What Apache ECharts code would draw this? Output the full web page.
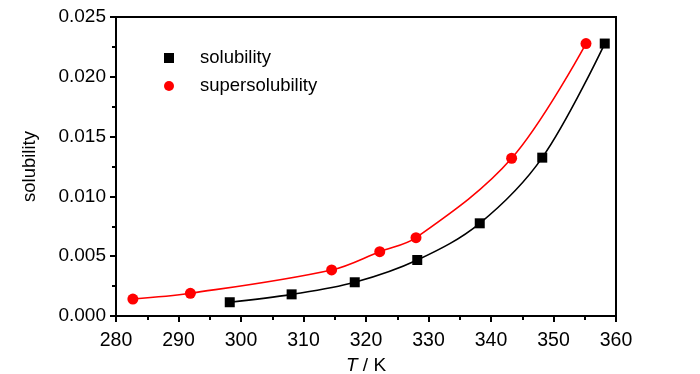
<!DOCTYPE html>
<html>
<head>
<meta charset="utf-8">
<script src="https://cdn.jsdelivr.net/npm/echarts@6/dist/echarts.min.js"></script>
<style>html,body{margin:0;padding:0;background:#fff}#c{width:700px;height:374px}</style>
</head>
<body>
<div id="c"></div>
<script>
const solT = [298.2, 308.1, 318.2, 328.2, 338.2, 348.2, 358.2];
const solVal = [0.00115, 0.00181, 0.00282, 0.00468, 0.00775, 0.01324, 0.02278];
const supT = [282.7, 291.9, 314.5, 322.2, 328.0, 343.3, 355.2];
const supVal = [0.00142, 0.0019, 0.00385, 0.00538, 0.00655, 0.01319, 0.02278];
const xTicks = [280, 290, 300, 310, 320, 330, 340, 350, 360];
const yTicks = [0.000, 0.005, 0.010, 0.015, 0.020, 0.025];

const FONT = "'Liberation Sans', Arial, sans-serif";
const chart = echarts.init(document.getElementById('c'), null, {renderer: 'canvas'});
const pair = (xs, ys) => xs.map((x, i) => [x, ys[i]]);

chart.setOption({
  animation: false,
  backgroundColor: '#fff',
  grid: {left: 116, top: 17, width: 500, height: 299, containLabel: false, outerBoundsMode: 'none',
         show: true, borderColor: '#000', borderWidth: 2, backgroundColor: 'transparent'},
  legend: {
    orient: 'vertical', left: 159, top: 42, itemWidth: 10, itemHeight: 10, itemGap: 6,
    textStyle: {fontFamily: FONT, fontSize: 18.5, color: '#000', lineHeight: 22, padding: [0, 0, 0, 21]},
    data: [{name: 'solubility', icon: 'rect'}, {name: 'supersolubility', icon: 'circle'}]
  },
  xAxis: {
    type: 'value', min: xTicks[0], max: xTicks[xTicks.length - 1], interval: 10,
    name: '{i|T} / K', nameLocation: 'middle', nameGap: 39,
    nameTextStyle: {fontFamily: FONT, fontSize: 19, color: '#000', rich: {i: {fontFamily: FONT, fontSize: 19, fontStyle: 'italic', color: '#000'}}},
    axisLine: {show: true, onZero: false, lineStyle: {color: '#000', width: 2}},
    axisTick: {show: true, inside: false, length: 6, lineStyle: {color: '#000', width: 2}},
    minorTick: {show: true, splitNumber: 2, length: 4, lineStyle: {color: '#000', width: 2}},
    splitLine: {show: false},
    axisLabel: {fontFamily: FONT, fontSize: 19.5, color: '#000', margin: 15}
  },
  yAxis: {
    type: 'value', min: yTicks[0], max: yTicks[yTicks.length - 1], interval: 0.005,
    name: 'solubility', nameLocation: 'middle', nameGap: 77, nameRotate: 90,
    nameTextStyle: {fontFamily: FONT, fontSize: 18.5, color: '#000'},
    axisLine: {show: true, onZero: false, lineStyle: {color: '#000', width: 2}},
    axisTick: {show: true, inside: false, length: 6, lineStyle: {color: '#000', width: 2}},
    minorTick: {show: true, splitNumber: 2, length: 4, lineStyle: {color: '#000', width: 2}},
    splitLine: {show: false},
    axisLabel: {fontFamily: FONT, fontSize: 19, color: '#000', margin: 10, formatter: v => v.toFixed(3)}
  },
  series: [
    {
      name: 'solubility', type: 'line', data: pair(solT, solVal), smooth: 0.35,
      symbol: 'rect', symbolSize: 10, itemStyle: {color: '#000'},
      lineStyle: {color: '#000', width: 1.6}, z: 3
    },
    {
      name: 'supersolubility', type: 'line', data: pair(supT, supVal), smooth: 0.35,
      symbol: 'circle', symbolSize: 11, itemStyle: {color: '#ff0000'},
      lineStyle: {color: '#ff0000', width: 1.6}, z: 3
    }
  ]
});
</script>
</body>
</html>
